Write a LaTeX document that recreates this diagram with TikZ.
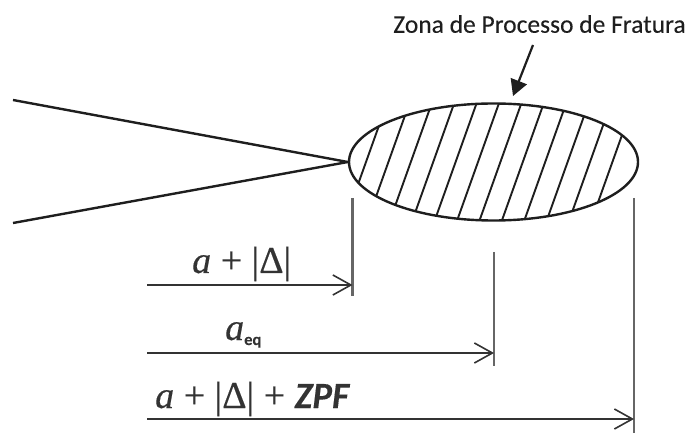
\documentclass[tikz,border=0pt]{standalone}
\usepackage{amsmath}
\usepackage{fontspec}
\setmainfont[FakeBold=0.3]{Liberation Serif}
\newfontfamily\labelfont[FakeBold=0.15]{Carlito}
\usetikzlibrary{positioning, arrows.meta, shapes.geometric}
\definecolor{ink}{HTML}{1E1E1E}
\definecolor{dim}{HTML}{333333}
\definecolor{tick}{HTML}{666666}

\begin{document}
\begin{tikzpicture}[x=1pt, y=-1pt,
      zone/.style={ellipse, draw=ink, line width=2.4pt, minimum width=289pt,
        minimum height=117pt, inner sep=0pt},
      hatch/.style={ink, line width=1.9pt},
      crack/.style={ink, line width=2.4pt},
      ticks/.style={tick, line width=2.2pt},
      dimen/.style={-{Straight Barb[length=18pt, width=20pt, line width=1.6pt]}, dim, line width=2.6pt},
      pointer/.style={-{Triangle[length=16pt, width=17pt]}, ink, line width=2.2pt},
      mlabel/.style={dim, inner sep=0pt, anchor=base west, font=\fontsize{38}{38}\selectfont}]
    \useasboundingbox (0,0) rectangle (690,435);

    % process zone
    \node[zone] (zpf) at (493.5,162) {};
    \begin{scope}
      \clip (493.5,162) ellipse [x radius=144.5, y radius=58.5];
      \foreach \i in {0,...,11}
        \draw[hatch] ({366+22.4*\i+25},{162-70}) -- ({366+22.4*\i-25},{162+70});
    \end{scope}

    % crack faces
    \coordinate (cu) at (13,100);
    \coordinate (cl) at (13,223);
    \draw[crack] (cu) -- (zpf.west);
    \draw[crack] (cl) -- (zpf.west);

    % title and pointer
    \node[ink, font=\labelfont\fontsize{25.5}{25.5}\selectfont, inner sep=0pt] (title) at (539.5,24) {Zona de Processo de Fratura};
    \coordinate (ps) at (533,45);
    \coordinate (pe) at (513,96);
    \draw[pointer] (ps) -- (pe);

    % reference ticks
    \coordinate (t1a) at (352.5,198);
    \coordinate (t1b) at (352.5,296);
    \coordinate (t2a) at (494,252);
    \coordinate (t2b) at (494,366);
    \coordinate (t3a) at (634,198);
    \coordinate (t3b) at (634,433);
    \draw[ticks] (t1a) -- (t1b);
    \draw[ticks] (t2a) -- (t2b);
    \draw[ticks] (t3a) -- (t3b);

    % lengths
    \coordinate (d1a) at (147,285);
    \coordinate (d1b) at (352.5,285);
    \coordinate (d2a) at (147,353);
    \coordinate (d2b) at (494,353);
    \coordinate (d3a) at (147,419);
    \coordinate (d3b) at (634,419);
    \draw[dimen] (d1a) -- (d1b);
    \draw[dimen] (d2a) -- (d2b);
    \draw[dimen] (d3a) -- (d3b);

    \node[mlabel] (l1) at (192,273) {\textit{a} + |Δ|};
    \node[mlabel] (l2) at (225,340) {\textit{a}\raisebox{-5pt}{\labelfont\bfseries\fontsize{16.5}{16.5}\selectfont eq}};
    \node[mlabel] (l3) at (155,408) {\textit{a} + |Δ| + {\labelfont\bfseries\itshape\fontsize{37}{37}\selectfont ZPF}};
  \end{tikzpicture}
\end{document}
